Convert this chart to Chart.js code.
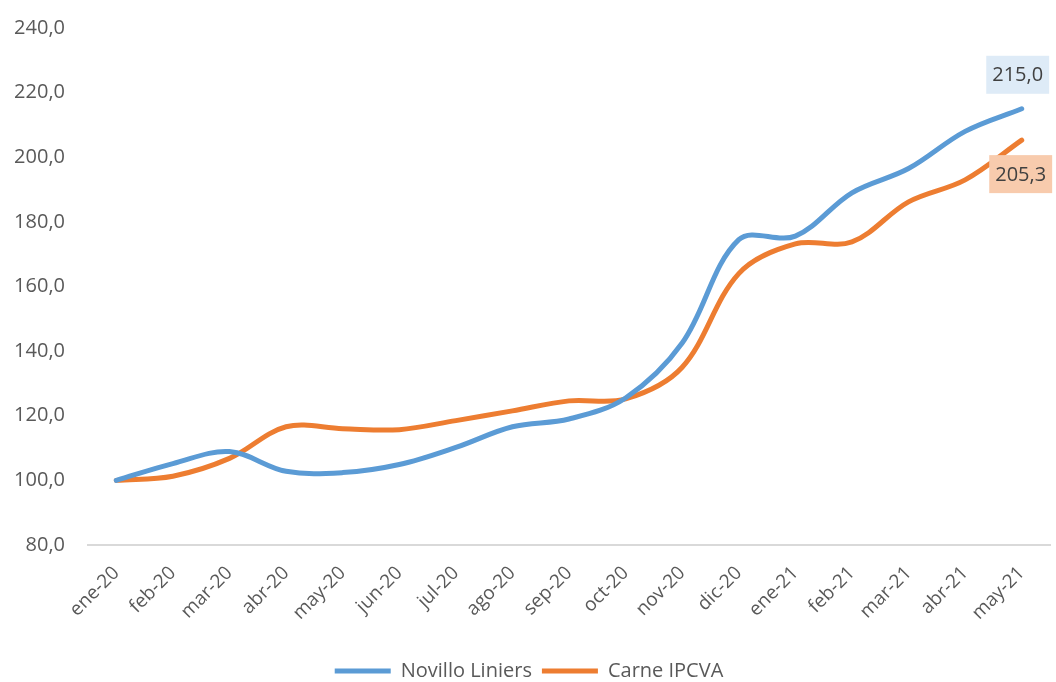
<!DOCTYPE html>
<html>
<head>
<meta charset="utf-8">
<script src="https://cdn.jsdelivr.net/npm/chart.js@4"></script>
<style>
  html, body { margin: 0; padding: 0; background: #fff; }
  #wrap { width: 1056px; height: 682px; }
</style>
</head>
<body>
<div id="wrap"><canvas id="chart" width="1056" height="682"></canvas></div>
<script>
// Meses (eje X)
const meses = ['ene-20', 'feb-20', 'mar-20', 'abr-20', 'may-20', 'jun-20', 'jul-20', 'ago-20',
  'sep-20', 'oct-20', 'nov-20', 'dic-20', 'ene-21', 'feb-21', 'mar-21', 'abr-21', 'may-21'];

// Índices base ene-20 = 100
const novilloLiniers = [100.0, 105.2, 108.9, 102.8, 102.4, 104.9, 110.2, 116.6, 119.0, 125.5,
  142.5, 174.5, 175.6, 189.0, 196.5, 208.0, 215.0];
const carneIPCVA = [100.0, 101.3, 106.8, 116.6, 116.0, 115.7, 118.5, 121.5, 124.6, 125.2,
  135.0, 164.0, 173.2, 173.8, 186.2, 193.0, 205.3];

const AZUL = '#5B9BD5';
const NARANJA = '#ED7D31';
const TEXTO = '#595959';
const FUENTE = '"Open Sans", sans-serif';

const fmt = (v) => Number(v).toFixed(1).replace('.', ',');

// Etiqueta del último valor de cada serie
const ultimoValor = {
  id: 'ultimoValor',
  afterDatasetsDraw(chart) {
    const ctx = chart.ctx;
    const estilos = [
      { bg: '#DEEBF7', dy: -34, dx: -4 },
      { bg: '#F8CBAD', dy: 34, dx: -1 }
    ];
    chart.data.datasets.forEach((ds, i) => {
      const meta = chart.getDatasetMeta(i);
      const pt = meta.data[meta.data.length - 1];
      const texto = fmt(ds.data[ds.data.length - 1]);
      ctx.save();
      ctx.font = '20px ' + FUENTE;
      const w = ctx.measureText(texto).width + 12;
      const h = 38;
      const cx = pt.x + estilos[i].dx;
      const cy = pt.y + estilos[i].dy;
      ctx.fillStyle = estilos[i].bg;
      ctx.fillRect(cx - w / 2, cy - h / 2, w, h);
      ctx.fillStyle = '#404040';
      ctx.textAlign = 'center';
      ctx.textBaseline = 'middle';
      ctx.fillText(texto, cx, cy + 1);
      ctx.restore();
    });
  }
};

const ctx = document.getElementById('chart').getContext('2d');
new Chart(ctx, {
  type: 'line',
  data: {
    labels: meses,
    datasets: [
      {
        label: 'Novillo Liniers',
        data: novilloLiniers,
        borderColor: AZUL,
        backgroundColor: AZUL,
        borderWidth: 5,
        borderCapStyle: 'round',
        pointRadius: 0,
        tension: 0.35
      },
      {
        label: 'Carne IPCVA',
        data: carneIPCVA,
        borderColor: NARANJA,
        backgroundColor: NARANJA,
        borderWidth: 5,
        borderCapStyle: 'round',
        pointRadius: 0,
        tension: 0.35
      }
    ]
  },
  options: {
    responsive: false,
    animation: false,
    layout: { padding: { top: 0, right: 6, left: 8, bottom: -9 } },
    plugins: {
      tooltip: { enabled: false },
      legend: {
        position: 'bottom',
        labels: {
          usePointStyle: true,
          pointStyle: 'line',
          pointStyleWidth: 56,
          color: TEXTO,
          font: { family: FUENTE, size: 20 },
          padding: 10
        }
      }
    },
    scales: {
      x: {
        offset: true,
        grid: { display: false },
        border: { color: '#D9D9D9', width: 2 },
        afterFit: (scale) => {
          scale.paddingLeft = 0;
          scale.paddingRight = 0;
          scale.height = 106;
        },
        ticks: {
          color: TEXTO,
          font: { family: FUENTE, size: 19 },
          maxRotation: 45,
          minRotation: 45,
          padding: 9
        }
      },
      y: {
        min: 80,
        max: 240,
        grid: { display: false },
        border: { display: false },
        afterFit: (scale) => {
          scale.width = 80;
          scale.paddingTop = 28;
          scale.paddingBottom = 0;
        },
        ticks: {
          stepSize: 20,
          color: TEXTO,
          font: { family: FUENTE, size: 20 },
          padding: 15,
          callback: (v) => fmt(v)
        }
      }
    }
  },
  plugins: [ultimoValor]
});
</script>
</body>
</html>
